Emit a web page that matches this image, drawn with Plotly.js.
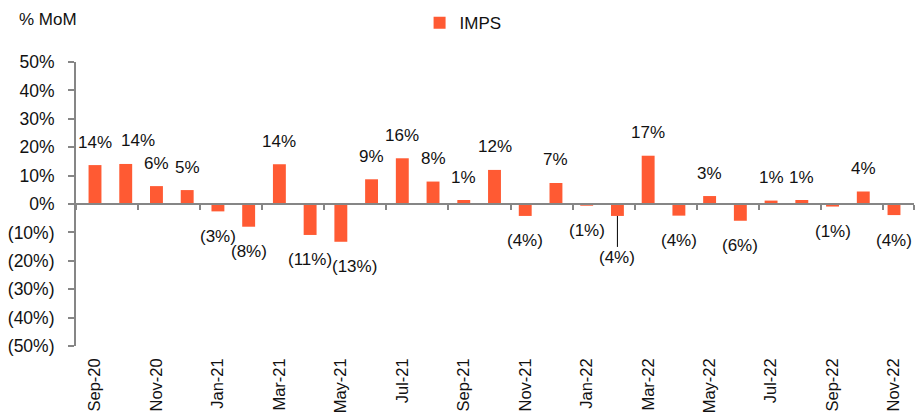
<!DOCTYPE html>
<html><head><meta charset="utf-8">
<script src="https://cdn.plot.ly/plotly-3.0.1.min.js"></script>
<style>html,body{margin:0;padding:0;background:#fff}</style>
</head><body><div id="chart" style="width:919px;height:417px"></div>
<script>
const months = ['Sep-20','Oct-20','Nov-20','Dec-20','Jan-21','Feb-21','Mar-21','Apr-21','May-21','Jun-21','Jul-21','Aug-21','Sep-21','Oct-21','Nov-21','Dec-21','Jan-22','Feb-22','Mar-22','Apr-22','May-22','Jun-22','Jul-22','Aug-22','Sep-22','Oct-22','Nov-22'];
const imps = [13.7,14.1,6.3,4.9,-2.6,-8.0,14.0,-10.9,-13.3,8.7,16.1,7.9,1.4,12.0,-4.2,7.4,-0.6,-4.2,17.0,-4.1,2.8,-5.9,1.2,1.4,-0.9,4.4,-3.9];
const xTickMonths = ['Sep-20','Nov-20','Jan-21','Mar-21','May-21','Jul-21','Sep-21','Nov-21','Jan-22','Mar-22','May-22','Jul-22','Sep-22','Nov-22'];
const yTickVals = [50,40,30,20,10,0,-10,-20,-30,-40,-50];
const yTickText = ['50%','40%','30%','20%','10%','0%','(10%)','(20%)','(30%)','(40%)','(50%)'];
const leaderLabels = ['Feb-22'];
const labelNudge = {'Oct-20': 12, 'May-21': 14};

const FONT = 'Liberation Sans, Arial, sans-serif';
const TXT = '#111';
const GREY = '#868686';
const BAR = '#FF5A33';

function fmt(v){ const r = Math.round(Math.abs(v)); return v < 0 ? '(' + r + '%)' : r + '%'; }

const traces = [
  {type:'bar', name:'IMPS', x:months, y:imps, marker:{color:BAR}, xaxis:'x', yaxis:'y', hoverinfo:'x+y'},
  {type:'bar', name:'IMPS', x:months, y:imps, marker:{color:'rgba(0,0,0,0)'}, xaxis:'x2', yaxis:'y', showlegend:false, hoverinfo:'skip'}
];

const labelFont = {family:FONT, size:17, color:TXT};
const annotations = months.map((m,i)=>{
  const v = imps[i];
  if (leaderLabels.includes(m)) {
    return {x:m, y:v, xref:'x', yref:'y', text:fmt(v), showarrow:true, arrowhead:0, arrowwidth:1, arrowcolor:'#000',
            ax:0, ay:42, standoff:0, font:labelFont};
  }
  return {x:m, y:v, xref:'x', yref:'y', text:fmt(v), showarrow:false, yanchor:'middle',
          xshift: labelNudge[m] || 0, yshift: v >= 0 ? 23 : -25, font:labelFont};
});
annotations.push({xref:'paper', yref:'paper', x:-0.0704, y:1.148, xanchor:'left', yanchor:'middle',
  text:'% MoM', showarrow:false, font:{family:FONT,size:17,color:TXT}});

const layout = {
  width:919, height:417,
  margin:{l:76, r:5, t:62, b:71},
  paper_bgcolor:'#fff', plot_bgcolor:'#fff',
  font:{family:FONT, size:17, color:TXT},
  bargap:0.58,
  showlegend:true,
  legend:{orientation:'h', x:0.41, xanchor:'left', y:1.2, yanchor:'top', font:{family:FONT,size:17,color:TXT}, bgcolor:'rgba(0,0,0,0)'},
  xaxis:{type:'category', categoryorder:'array', categoryarray:months, tickmode:'array', tickvals:xTickMonths, ticktext:xTickMonths,
         tickangle:-90, ticks:'', showline:false, showgrid:false, zeroline:false, ticklabelstandoff:8,
         tickfont:{family:FONT,size:16.5,color:TXT}},
  xaxis2:{type:'category', categoryorder:'array', categoryarray:months, overlaying:'x', anchor:'free', position:0.5,
          tickmode:'array', tickvals:xTickMonths, tickson:'boundaries', ticks:'outside', ticklen:5, tickwidth:2, tickcolor:GREY,
          showticklabels:false, showline:true, linecolor:GREY, linewidth:2, showgrid:false, zeroline:false},
  yaxis:{range:[-50,50], tickmode:'array', tickvals:yTickVals, ticktext:yTickText, ticks:'outside', ticklen:6, tickwidth:2, tickcolor:GREY,
         showline:true, linecolor:GREY, linewidth:2, showgrid:false, zeroline:false, ticklabelstandoff:10,
         tickfont:{family:FONT,size:17.5,color:TXT}},
  annotations:annotations
};

Plotly.newPlot('chart', traces, layout, {displayModeBar:false, staticPlot:true});
</script></body></html>
